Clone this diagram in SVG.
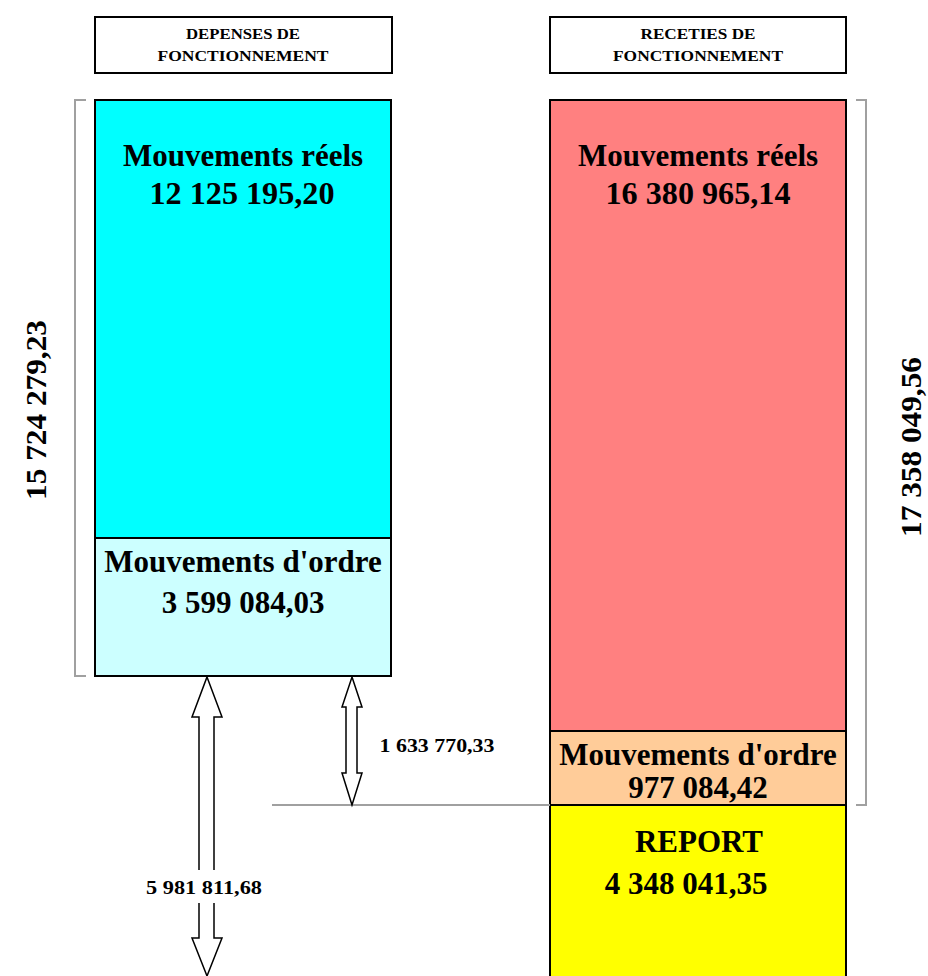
<svg xmlns="http://www.w3.org/2000/svg" width="928" height="976" viewBox="0 0 928 976">
<style>
.t{font-family:"Liberation Serif","Times New Roman",serif;font-weight:bold;fill:#000;text-anchor:middle}
.hd{font-size:15px}
.big{font-size:31px}
.lab{font-size:19px}
.side{font-size:29px}
.box{stroke:#000;stroke-width:2}
.br{fill:none;stroke:#a0a0a0;stroke-width:2}
.arr{fill:#fff;stroke:#000;stroke-width:1.5;stroke-linejoin:miter}
</style>
<rect width="928" height="976" fill="#fff"/>
<g id="header-depenses">
<rect class="box" x="95" y="17" width="297" height="56" fill="#fff"/>
<text class="t hd" x="243" y="39" textLength="114" lengthAdjust="spacingAndGlyphs">DEPENSES DE</text>
<text class="t hd" x="243" y="61" textLength="171" lengthAdjust="spacingAndGlyphs">FONCTIONNEMENT</text>
</g>
<g id="header-recettes">
<rect class="box" x="550" y="17" width="296" height="56" fill="#fff"/>
<text class="t hd" x="698" y="39" textLength="115" lengthAdjust="spacingAndGlyphs">RECETIES DE</text>
<text class="t hd" x="698" y="61" textLength="170" lengthAdjust="spacingAndGlyphs">FONCTIONNEMENT</text>
</g>
<g id="dep-reels">
<rect class="box" x="95" y="100" width="296" height="438" fill="#00ffff"/>
<text class="t big" x="243" y="166">Mouvements réels</text>
<text class="t big" x="242" y="204" textLength="185" lengthAdjust="spacingAndGlyphs">12 125 195,20</text>
</g>
<g id="dep-ordre">
<rect class="box" x="95" y="538" width="296" height="138" fill="#ccffff"/>
<text class="t big" x="243" y="572">Mouvements d'ordre</text>
<text class="t big" x="243" y="613">3 599 084,03</text>
</g>
<g id="rec-reels">
<rect class="box" x="550" y="100" width="296" height="631" fill="#ff8080"/>
<text class="t big" x="698" y="166">Mouvements réels</text>
<text class="t big" x="698" y="204" textLength="185" lengthAdjust="spacingAndGlyphs">16 380 965,14</text>
</g>
<g id="rec-ordre">
<rect class="box" x="550" y="731" width="296" height="74" fill="#ffcc99"/>
<text class="t big" x="698" y="765">Mouvements d'ordre</text>
<text class="t big" x="698" y="798">977 084,42</text>
</g>
<g id="report">
<rect class="box" x="550" y="805" width="296" height="180" fill="#ffff00"/>
<text class="t big" x="699" y="852">REPORT</text>
<text class="t big" x="686" y="894">4 348 041,35</text>
</g>
<g id="total-depenses">
<path class="br" d="M86,100 H75 V676 H86"/>
<text class="t side" transform="translate(46,410) rotate(-90)" textLength="180" lengthAdjust="spacingAndGlyphs">15 724 279,23</text>
</g>
<g id="total-recettes">
<path class="br" d="M856,100 H866 V805 H856"/>
<text class="t side" transform="translate(921,447) rotate(-90)" textLength="180" lengthAdjust="spacingAndGlyphs">17 358 049,56</text>
</g>
<g id="connectors">
<line x1="272" y1="805" x2="550" y2="805" stroke="#a0a0a0" stroke-width="2"/>
<path class="arr" d="M207,677 L222,717 L214,717 L214,938 L222,938 L207,976 L192,938 L199,938 L199,717 L192,717 Z"/>
<rect x="190" y="870" width="36" height="33" fill="#fff"/>
<path class="arr" d="M352,677 L362,707 L357,707 L357,773 L362,773 L352,805 L342,773 L346,773 L346,707 L342,707 Z"/>
</g>
<g id="labels">
<text class="t lab" x="204" y="894" textLength="116" lengthAdjust="spacingAndGlyphs">5 981 811,68</text>
<text class="t lab" x="437" y="752" textLength="115" lengthAdjust="spacingAndGlyphs">1 633 770,33</text>
</g>
</svg>
